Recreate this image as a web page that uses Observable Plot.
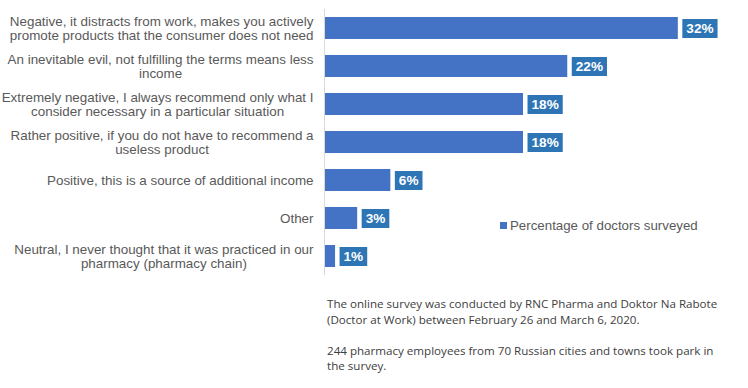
<!DOCTYPE html>
<html>
<head>
<meta charset="utf-8">
<script src="https://cdn.jsdelivr.net/npm/d3@7"></script>
<script src="https://cdn.jsdelivr.net/npm/@observablehq/plot@0.6"></script>
<style>
  body { margin: 0; background: white; }
  #wrap { position: relative; width: 748px; height: 388px; background: white; font-family: Arial, "Liberation Sans", sans-serif; }
  #legend { position: absolute; left: 500px; top: 218px; font-size: 13.3px; color: #595959; display: flex; align-items: center; white-space: nowrap; }
  #legend .sw { width: 7px; height: 7px; background: #4472c4; margin-right: 3px; }
  #note { position: absolute; left: 327px; top: 296px; font-family: "Open Sans", "Noto Sans", sans-serif; font-size: 11.6px; line-height: 15.5px; color: #404040; white-space: nowrap; }
</style>
</head>
<body>
<div id="wrap">
  <div id="legend"><div class="sw"></div><span>Percentage of doctors surveyed</span></div>
  <div id="note">The online survey was conducted by RNC Pharma and Doktor Na Rabote<br>(Doctor at Work) between February 26 and March 6, 2020.<br><br>244 pharmacy employees from 70 Russian cities and towns took park in<br>the survey.</div>
</div>
<script>
const categories = [
  "Negative, it distracts from work, makes you actively\npromote products that the consumer does not need",
  "An inevitable evil, not fulfilling the terms means less\nincome",
  "Extremely negative, I always recommend only what I\nconsider necessary in a particular situation",
  "Rather positive, if you do not have to recommend a\nuseless product",
  "Positive, this is a source of additional income",
  "Other",
  "Neutral, I never thought that it was practiced in our\npharmacy (pharmacy chain)"
];
const values = [32, 22, 18, 18, 6, 3, 1];
const seriesName = "Percentage of doctors surveyed";

const data = categories.map((c, i) => ({category: c, value: values[i]}));

const chart = Plot.plot({
  width: 748,
  height: 388,
  marginLeft: 324,
  marginRight: 37,
  marginTop: 9,
  marginBottom: 113,
  x: {domain: [0, 35], axis: null},
  y: {domain: categories, axis: null, paddingInner: 0.42, paddingOuter: 0.21},
  style: {fontFamily: "Arial, 'Liberation Sans', sans-serif", background: "white"},
  marks: [
    Plot.barX(data, {x: "value", y: "category", fill: "#4472c4"}),
    Plot.ruleX([0], {stroke: "#d9d9d9"}),
    Plot.text(data, {x: 0, y: "category", text: "category", textAnchor: "end", dx: -11, fill: "#595959", fontSize: 13.4, lineHeight: 1.02}),
    Plot.text(data, {x: "value", y: "category", text: d => d.value + "%", textAnchor: "start", dx: 8, fill: "white", fontWeight: "bold", fontSize: 13.6})
  ]
});
chart.style.position = "absolute";
chart.style.left = "0px";
chart.style.top = "0px";
const wrap = document.getElementById("wrap");
wrap.insertBefore(chart, wrap.firstChild);
document.querySelector("#legend span").textContent = seriesName;

const groups = chart.querySelectorAll('g[aria-label="text"]');
// center lines of multi-line category labels
groups[0].querySelectorAll("text").forEach(t => {
  const spans = t.querySelectorAll("tspan");
  if (spans.length < 2) return;
  const ws = Array.from(spans).map(s => s.getComputedTextLength());
  const W = Math.max(...ws);
  spans.forEach((s, i) => s.setAttribute("x", -(W - ws[i]) / 2));
});
// boxes behind value labels
groups[1].querySelectorAll("text").forEach(t => {
  const b = t.getBBox();
  const r = document.createElementNS("http://www.w3.org/2000/svg", "rect");
  r.setAttribute("x", b.x - 4);
  r.setAttribute("y", -9.5);
  r.setAttribute("width", b.width + 8);
  r.setAttribute("height", 19);
  r.setAttribute("fill", "#2e75b6");
  const tr = t.getAttribute("transform");
  if (tr) r.setAttribute("transform", tr);
  groups[1].insertBefore(r, t);
});
</script>
</body>
</html>
